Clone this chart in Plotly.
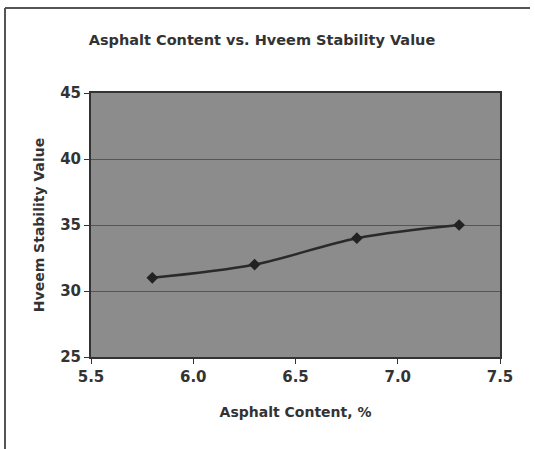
import plotly.graph_objects as go

asphalt_content = [5.8, 6.3, 6.8, 7.3]
stability_value = [31.0, 32.0, 34.0, 35.0]
x_ticks = [5.5, 6.0, 6.5, 7.0, 7.5]
x_tick_labels = ["5.5", "6.0", "6.5", "7.0", "7.5"]
y_ticks = [25, 30, 35, 40, 45]

fig = go.Figure()
fig.add_trace(go.Scatter(
    x=asphalt_content, y=stability_value, mode="lines+markers",
    line=dict(color="#2a2a2a", width=2.5, shape="spline"),
    marker=dict(symbol="diamond", size=9, color="#222222"),
    showlegend=False,
))

font_family = "DejaVu Sans, Verdana, sans-serif"
fig.update_layout(
    width=535, height=449,
    margin=dict(l=91, r=35, t=93, b=92),
    paper_bgcolor="white",
    plot_bgcolor="#8c8c8c",
    font=dict(family=font_family, color="#333333"),
    title=dict(text="<b>Asphalt Content vs. Hveem Stability Value</b>",
               x=262/535, xanchor="center", y=1-40/449, yanchor="middle",
               font=dict(size=14.5, color="#333333")),
    xaxis=dict(range=[5.5, 7.5], tickvals=x_ticks, ticktext=[f"<b>{t}</b>" for t in x_tick_labels],
               showgrid=False, zeroline=False,
               showline=True, linecolor="#333333", linewidth=2, mirror=True,
               ticks="outside", ticklen=5, tickcolor="#333333",
               tickfont=dict(size=15),
               title=dict(text="<b>Asphalt Content, %</b>", font=dict(size=14), standoff=22)),
    yaxis=dict(range=[25, 45], tickvals=y_ticks, ticktext=[f"<b>{t}</b>" for t in y_ticks],
               showgrid=True, gridcolor="#555555", gridwidth=1, zeroline=False,
               showline=True, linecolor="#333333", linewidth=2, mirror=True,
               ticks="outside", ticklen=5, tickcolor="#333333",
               tickfont=dict(size=15),
               title=dict(text="<b>Hveem Stability Value</b>", font=dict(size=14), standoff=12)),
    shapes=[
        dict(type="line", xref="paper", yref="paper",
             x0=-86/409, x1=(530-91)/409, y0=1+85/264, y1=1+85/264,
             line=dict(color="#555555", width=2)),
        dict(type="line", xref="paper", yref="paper",
             x0=-86/409, x1=-86/409, y0=1+85/264, y1=-92/264,
             line=dict(color="#555555", width=2)),
    ],
)

fig.write_html("out.html")
